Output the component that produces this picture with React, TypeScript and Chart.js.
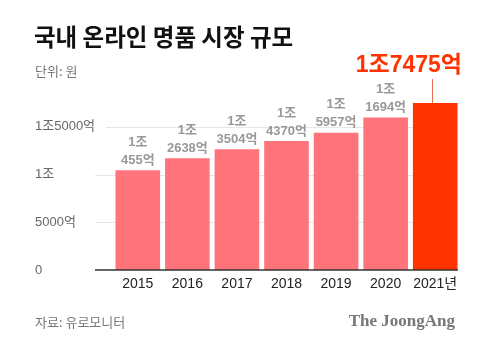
import React, { useEffect, useRef } from 'react';
import { Chart, registerables } from 'chart.js';

Chart.register(...registerables);

const years = ['2015', '2016', '2017', '2018', '2019', '2020', '2021년'];
const values = [10455, 11694, 12638, 13504, 14370, 15957, 17475];
const labelTop = ['1조', '1조', '1조', '1조', '1조', '1조'];
const labelBottom = ['455억', '2638억', '3504억', '4370억', '5957억', '1694억'];
const highlightLabel = '1조7475억';
const yTickValues = [0, 5000, 10000, 15000];
const yTickLabels = ['0', '5000억', '1조', '1조5000억'];
const titleText = '국내 온라인 명품 시장 규모';
const unitText = '단위: 원';
const sourceText = '자료: 유로모니터';
const brandText = 'The JoongAng';

const SANS = "'Liberation Sans', 'Noto Sans CJK KR', sans-serif";
const KR = "'Noto Sans CJK KR', 'Liberation Sans', sans-serif";
const BAR = '#ff737b';
const HIGHLIGHT = '#ff3300';

const overlay = {
  id: 'overlay',
  beforeDatasetsDraw(chart: any) {
    const { ctx, chartArea } = chart;
    const y = chart.scales.y;
    ctx.save();
    ctx.strokeStyle = '#e6e6e6';
    ctx.lineWidth = 1;
    yTickValues.forEach((v) => {
      if (v === 0) return;
      const py = Math.round(y.getPixelForValue(v)) + 0.5;
      ctx.beginPath();
      ctx.moveTo(v === 15000 ? 106 : 95, py);
      ctx.lineTo(chartArea.right - 2, py);
      ctx.stroke();
    });
    ctx.restore();
  },
  afterDatasetsDraw(chart: any) {
    const { ctx, chartArea } = chart;
    const y = chart.scales.y;
    const meta = chart.getDatasetMeta(0);
    ctx.save();
    // baseline
    ctx.strokeStyle = '#333';
    ctx.lineWidth = 1.5;
    const by = y.getPixelForValue(0);
    ctx.beginPath();
    ctx.moveTo(95, by);
    ctx.lineTo(chartArea.right - 2, by);
    ctx.stroke();

    // value labels
    ctx.textAlign = 'center';
    ctx.textBaseline = 'middle';
    ctx.fillStyle = '#999';
    ctx.font = `bold 13px ${SANS}`;
    labelBottom.forEach((lb, i) => {
      const bar = meta.data[i];
      ctx.fillText(labelTop[i], bar.x, bar.y - 28);
      ctx.fillText(lb, bar.x, bar.y - 10);
    });

    // highlight
    const last = meta.data[values.length - 1];
    ctx.strokeStyle = '#e8704e';
    ctx.lineWidth = 1;
    ctx.beginPath();
    ctx.moveTo(Math.round(last.x - 3) + 0.5, last.y);
    ctx.lineTo(Math.round(last.x - 3) + 0.5, 79);
    ctx.stroke();
    ctx.fillStyle = HIGHLIGHT;
    ctx.textAlign = 'right';
    ctx.font = `bold 23px ${SANS}`;
    ctx.fillText(highlightLabel, 462, 66);

    // title etc.
    ctx.textAlign = 'left';
    ctx.fillStyle = '#111';
    ctx.font = `bold 23.5px ${KR}`;
    ctx.fillText(titleText, 34, 37);
    ctx.fillStyle = '#777';
    ctx.font = `13px ${KR}`;
    ctx.fillText(unitText, 35, 71);
    ctx.fillText(sourceText, 35, 322);
    ctx.textAlign = 'right';
    ctx.fillStyle = '#777';
    ctx.font = `bold 17px 'Liberation Serif', 'DejaVu Serif', serif`;
    ctx.fillText(brandText, 455, 322);
    ctx.restore();
  },
};

export default function App() {
  const ref = useRef<HTMLCanvasElement | null>(null);
  useEffect(() => {
    if (!ref.current) return;
    const chart = new Chart(ref.current, {
      type: 'bar',
      data: {
        labels: years,
        datasets: [
          {
            data: values,
            backgroundColor: values.map((_, i) => (i === values.length - 1 ? HIGHLIGHT : BAR)),
            barPercentage: 0.9,
            categoryPercentage: 1,
          },
        ],
      },
      options: {
        animation: false,
        responsive: false,
        layout: { padding: { left: 35, right: 20, top: 79, bottom: 56 } },
        plugins: { legend: { display: false }, tooltip: { enabled: false } },
        scales: {
          x: {
            grid: { display: false, drawTicks: false, tickLength: 0 },
            border: { display: false },
            ticks: {
              color: '#222',
              font: { size: 14, family: SANS },
              padding: 6,
              maxRotation: 0,
              minRotation: 0,
              autoSkip: false,
            },
            afterFit: (s: any) => {
              s.height = 30;
            },
          },
          y: {
            min: 0,
            max: 20000,
            grid: { display: false, drawTicks: false, tickLength: 0 },
            border: { display: false },
            ticks: {
              stepSize: 5000,
              crossAlign: 'far',
              color: '#666',
              font: { size: 13, family: SANS },
              callback: (v: any) => {
                const idx = yTickValues.indexOf(Number(v));
                return idx >= 0 ? yTickLabels[idx] : '';
              },
            },
            afterFit: (s: any) => {
              s.width = 78;
            },
          },
        },
      },
      plugins: [overlay],
    });
    return () => chart.destroy();
  }, []);
  return (
    <div style={{ position: 'absolute', left: 0, top: 0, width: 480, height: 356, background: '#fff' }}>
      <canvas ref={ref} width={480} height={356} style={{ display: 'block' }} />
    </div>
  );
}
